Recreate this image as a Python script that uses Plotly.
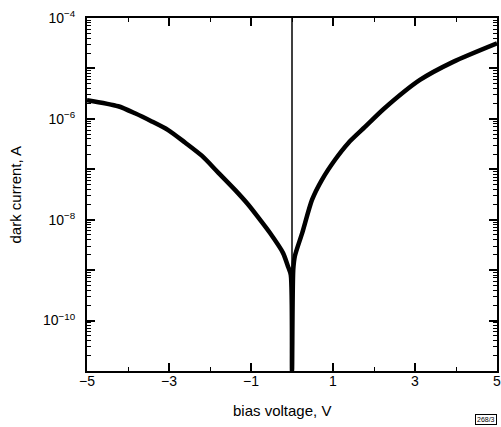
import plotly.graph_objects as go

# bias voltage (V) and dark current (A)
voltage_neg = [-5.0, -4.24, -3.83, -3.42, -3.02, -2.61, -2.20, -1.80, -1.39, -1.07, -0.78,
               -0.54, -0.22, -0.10, -0.03, 0.0]
current_neg = [2.35e-6, 1.78e-6, 1.29e-6, 8.9e-7, 6.0e-7, 3.4e-7, 1.86e-7, 8.6e-8, 3.9e-8, 2.0e-8, 1.0e-8,
               5.5e-9, 2.2e-9, 1.2e-9, 8.1e-10, 1.0e-11]
voltage_pos = [0.0, 0.03, 0.07, 0.25, 0.49, 0.73, 1.05, 1.37, 1.78, 2.25, 3.12, 3.93, 5.0]
current_pos = [1.0e-11, 1.0e-9, 1.9e-9, 5.5e-9, 2.5e-8, 6.2e-8, 1.55e-7, 3.3e-7, 6.9e-7, 1.6e-6,
               5.9e-6, 1.35e-5, 3.15e-5]
zero_bias = 0.0

x_tick_vals = [-5, -3, -1, 1, 3, 5]
x_tick_text = ["\u22125", "\u22123", "\u22121", "1", "3", "5"]
y_tick_vals = [1e-4, 1e-5, 1e-6, 1e-7, 1e-8, 1e-9, 1e-10, 1e-11]
y_tick_text = ["10<sup>\u22124</sup>", "", "10<sup>\u22126</sup>", "", "10<sup>\u22128</sup>", "",
               "10<sup>\u221210</sup>", ""]
y_range_log = [-11, -4]

volts = voltage_neg + voltage_pos[1:]
amps = current_neg + current_pos[1:]

fig = go.Figure()
fig.add_trace(go.Scatter(x=volts, y=amps, mode="lines",
                         line=dict(color="black", width=4.5, shape="spline", smoothing=0.7),
                         showlegend=False, hoverinfo="skip"))
# vertical line at zero bias spanning the whole current range (on the tick-drawing overlay axis)
fig.add_trace(go.Scatter(x=[zero_bias, zero_bias], y=[10 ** y_range_log[0], 10 ** y_range_log[1]],
                         yaxis="y2", mode="lines", line=dict(color="black", width=1.5),
                         showlegend=False, hoverinfo="skip"))

fam = "Liberation Sans, Arial, sans-serif"
font = dict(family=fam, size=14, color="black")
title_font = dict(family=fam, size=15, color="black")

fig.update_layout(
    width=501, height=427,
    margin=dict(l=87, r=4, t=18, b=56),
    plot_bgcolor="white", paper_bgcolor="white",
    font=font,
    xaxis=dict(range=[-5, 5], tickvals=x_tick_vals, ticktext=x_tick_text,
               ticks="inside", ticklen=8, tickwidth=1.5, tickcolor="black",
               showline=True, linecolor="black", linewidth=2, mirror="ticks",
               showgrid=False, zeroline=False, automargin=False,
               ticklabelstandoff=-4, ticklabeloverflow="allow",
               minor=dict(ticks="inside", ticklen=4, tickwidth=1.2, tickcolor="black", dtick=1, tick0=0, showgrid=False)),
    # labelled axis: invisible outside ticks push the labels away from the frame
    yaxis=dict(type="log", range=y_range_log, tickvals=y_tick_vals, ticktext=y_tick_text,
               ticks="outside", ticklen=7, tickcolor="rgba(0,0,0,0)",
               showline=True, linecolor="black", linewidth=2, mirror=True,
               showgrid=False, zeroline=False, automargin=False, ticklabeloverflow="allow"),
    # overlay axis that draws the inside decade and sub-decade ticks
    yaxis2=dict(type="log", range=y_range_log, overlaying="y", side="left", anchor="x",
                tickvals=y_tick_vals, showticklabels=False,
                ticks="inside", ticklen=8, tickwidth=1.5, tickcolor="black",
                showline=False, mirror="ticks", showgrid=False, zeroline=False, automargin=False,
                minor=dict(ticks="inside", ticklen=4, tickwidth=1, tickcolor="black", dtick="D1", showgrid=False)),
)

fig.add_annotation(text="bias voltage, V", xref="paper", yref="paper", x=0.476, y=-0.1133,
                   xanchor="center", yanchor="middle", showarrow=False, font=title_font)
fig.add_annotation(text="dark current, A", xref="paper", yref="paper", x=-0.1756, y=0.5,
                   xanchor="center", yanchor="middle", textangle=-90, showarrow=False, font=title_font)
fig.add_annotation(text="268/3", xref="paper", yref="paper", x=1, y=-0.153,
                   xanchor="right", yanchor="bottom", showarrow=False,
                   font=dict(family=fam, size=7, color="black"),
                   bordercolor="black", borderwidth=1, borderpad=1)

fig.write_html("out.html", config={"displayModeBar": False},
               post_script="document.body.style.margin='0';document.body.style.padding='0';")
